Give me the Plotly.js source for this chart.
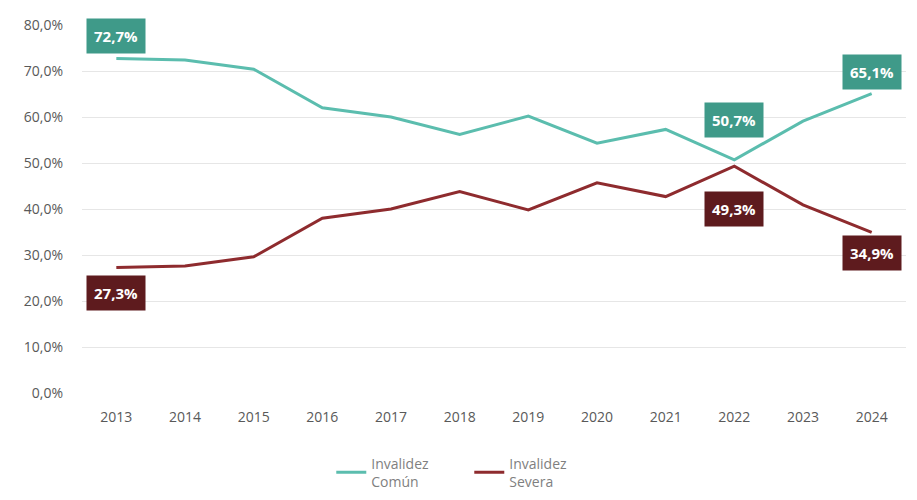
<!DOCTYPE html>
<html><head><meta charset="utf-8">
<script src="https://cdn.plot.ly/plotly-3.0.1.min.js"></script>
<style>body{margin:0;background:#fff}#c{width:917px;height:500px}</style>
</head><body><div id="c"></div>
<script>
const years = ['2013','2014','2015','2016','2017','2018','2019','2020','2021','2022','2023','2024'];
const comun = [72.7, 72.4, 70.4, 62.0, 60.0, 56.2, 60.2, 54.3, 57.3, 50.7, 59.1, 65.1];
const severa = [27.3, 27.6, 29.6, 38.0, 40.0, 43.8, 39.8, 45.7, 42.7, 49.3, 40.9, 34.9];
const yTicks = [0,10,20,30,40,50,60,70,80];
const yTickLabels = ['0,0%','10,0%','20,0%','30,0%','40,0%','50,0%','60,0%','70,0%','80,0%'];
const labelled = [0, 9, 11];
const comunShift = [23, 40, 22];
const severaShift = [-26, -43, -21];

const tealLine = '#5bbdae', tealBox = '#3f9a89';
const redLine = '#8e2b2e', redBox = '#5e1b1e';
const fmt = v => v.toFixed(1).replace('.', ',') + '%';

const annotations = [];
labelled.forEach((i, k) => {
  annotations.push({x: i, y: comun[i], xref:'x', yref:'y', text: '<b>'+fmt(comun[i])+'</b>',
    showarrow:false, yshift: comunShift[k], bgcolor: tealBox, borderpad: 7,
    font:{color:'#ffffff', size:15, family:'Open Sans, sans-serif'}});
  annotations.push({x: i, y: severa[i], xref:'x', yref:'y', text: '<b>'+fmt(severa[i])+'</b>',
    showarrow:false, yshift: severaShift[k], bgcolor: redBox, borderpad: 7,
    font:{color:'#ffffff', size:15, family:'Open Sans, sans-serif'}});
});

const data = [
  {x: years, y: comun, type:'scatter', mode:'lines', name:'Invalidez<br>Común',
   line:{color: tealLine, width:3}},
  {x: years, y: severa, type:'scatter', mode:'lines', name:'Invalidez<br>Severa',
   line:{color: redLine, width:3}}
];
const layout = {
  width:917, height:500,
  margin:{l:82, r:11, t:25, b:107},
  paper_bgcolor:'#fff', plot_bgcolor:'#fff',
  font:{family:'Open Sans, sans-serif', color:'#595959', size:13},
  showlegend:true,
  legend:{orientation:'h', x:0.47, xanchor:'center', yref:'container', y:0.005, yanchor:'bottom',
    font:{size:14, color:'#7f7f7f'}, entrywidth:93},
  xaxis:{type:'category', range:[-0.5, 11.5], showgrid:false, zeroline:false, showline:false,
    ticks:'', ticklabelstandoff:14, tickfont:{size:14, color:'#595959'}},
  yaxis:{range:[0, 80], tickvals: yTicks, ticktext: yTickLabels, showgrid:true,
    gridcolor:'#e6e6e6', gridwidth:1, zeroline:false, showline:false, ticks:'',
    ticklabelstandoff:18, tickfont:{size:14, color:'#595959'}},
  annotations: annotations
};
Plotly.newPlot('c', data, layout, {displayModeBar:false});
</script></body></html>
